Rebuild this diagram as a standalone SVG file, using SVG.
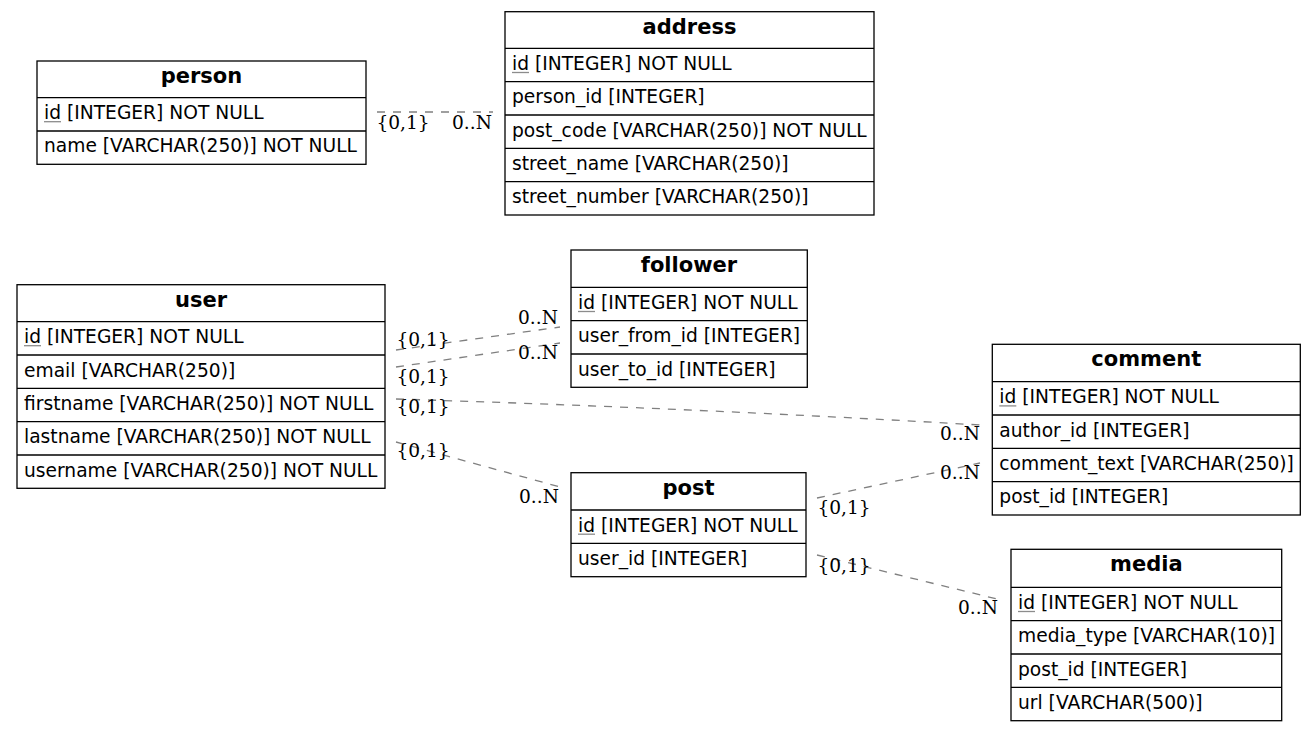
<svg xmlns="http://www.w3.org/2000/svg" width="1316" height="731" viewBox="0 0 1316 731">
<style>
.box{fill:#fff;stroke:#000;stroke-width:1.3}
.sep{stroke:#000;stroke-width:1.3}
.hd{font-family:"DejaVu Sans",sans-serif;font-weight:bold;font-size:21px;text-anchor:middle;fill:#000}
.f{font-family:"DejaVu Sans",sans-serif;font-size:18.67px;fill:#000}
.ul{stroke:#8c8c8c;stroke-width:1.3}
.e{fill:none;stroke:#808080;stroke-width:1.3;stroke-dasharray:8 8}
.lb{font-family:"DejaVu Serif",serif;font-size:18.6px;text-anchor:middle;fill:#000}
</style>
<rect width="1316" height="731" fill="#fff"/>
<g id="connectors">
<line class="e" x1="377" y1="112" x2="493" y2="112"/>
<line class="e" x1="396" y1="350" x2="560" y2="327"/>
<line class="e" x1="396" y1="367" x2="560" y2="343"/>
<path class="e" d="M396,399 Q690,408 980,425"/>
<line class="e" x1="396" y1="442" x2="560" y2="487"/>
<line class="e" x1="817" y1="498" x2="980" y2="463"/>
<line class="e" x1="817" y1="555" x2="997" y2="599"/>
<text class="lb" x="403" y="129">{0,1}</text>
<text class="lb" x="472" y="129">0..N</text>
<text class="lb" x="423" y="346">{0,1}</text>
<text class="lb" x="538" y="323.5">0..N</text>
<text class="lb" x="423" y="383">{0,1}</text>
<text class="lb" x="538" y="358.5">0..N</text>
<text class="lb" x="423" y="413">{0,1}</text>
<text class="lb" x="960" y="439.5">0..N</text>
<text class="lb" x="423" y="456.7">{0,1}</text>
<text class="lb" x="539" y="502.5">0..N</text>
<text class="lb" x="844" y="514">{0,1}</text>
<text class="lb" x="960" y="478.5">0..N</text>
<text class="lb" x="844" y="571.5">{0,1}</text>
<text class="lb" x="978" y="613.5">0..N</text>
</g>
<g id="person">
<rect class="box" x="37" y="61" width="329" height="103.3"/>
<line class="sep" x1="37" y1="97.7" x2="366" y2="97.7"/>
<line class="sep" x1="37" y1="131" x2="366" y2="131"/>
<text class="hd" x="201.5" y="83">person</text>
<text class="f" x="44" y="119">id [INTEGER] NOT NULL</text>
<line class="ul" x1="44" y1="121.7" x2="61" y2="121.7"/>
<text class="f" x="44" y="152.3">name [VARCHAR(250)] NOT NULL</text>
</g>
<g id="address">
<rect class="box" x="505" y="11.7" width="369" height="203.3"/>
<line class="sep" x1="505" y1="48.3" x2="874" y2="48.3"/>
<line class="sep" x1="505" y1="81.7" x2="874" y2="81.7"/>
<line class="sep" x1="505" y1="115" x2="874" y2="115"/>
<line class="sep" x1="505" y1="148.3" x2="874" y2="148.3"/>
<line class="sep" x1="505" y1="181.7" x2="874" y2="181.7"/>
<text class="hd" x="689.5" y="34">address</text>
<text class="f" x="512" y="69.8">id [INTEGER] NOT NULL</text>
<line class="ul" x1="512" y1="72.5" x2="529" y2="72.5"/>
<text class="f" x="512" y="103.2">person_id [INTEGER]</text>
<text class="f" x="512" y="136.5">post_code [VARCHAR(250)] NOT NULL</text>
<text class="f" x="512" y="169.8">street_name [VARCHAR(250)]</text>
<text class="f" x="512" y="203.2">street_number [VARCHAR(250)]</text>
</g>
<g id="user">
<rect class="box" x="17" y="284.7" width="368" height="203.6"/>
<line class="sep" x1="17" y1="321.7" x2="385" y2="321.7"/>
<line class="sep" x1="17" y1="355" x2="385" y2="355"/>
<line class="sep" x1="17" y1="388.3" x2="385" y2="388.3"/>
<line class="sep" x1="17" y1="421.7" x2="385" y2="421.7"/>
<line class="sep" x1="17" y1="455" x2="385" y2="455"/>
<text class="hd" x="201" y="306.7">user</text>
<text class="f" x="24" y="343">id [INTEGER] NOT NULL</text>
<line class="ul" x1="24" y1="345.7" x2="41" y2="345.7"/>
<text class="f" x="24" y="376.5">email [VARCHAR(250)]</text>
<text class="f" x="24" y="409.8">firstname [VARCHAR(250)] NOT NULL</text>
<text class="f" x="24" y="443.2">lastname [VARCHAR(250)] NOT NULL</text>
<text class="f" x="24" y="476.5">username [VARCHAR(250)] NOT NULL</text>
</g>
<g id="follower">
<rect class="box" x="571" y="250" width="236.3" height="137.3"/>
<line class="sep" x1="571" y1="287.3" x2="807.3" y2="287.3"/>
<line class="sep" x1="571" y1="320.7" x2="807.3" y2="320.7"/>
<line class="sep" x1="571" y1="354" x2="807.3" y2="354"/>
<text class="hd" x="689" y="272">follower</text>
<text class="f" x="578" y="308.8">id [INTEGER] NOT NULL</text>
<line class="ul" x1="578" y1="311.5" x2="595" y2="311.5"/>
<text class="f" x="578" y="342.2">user_from_id [INTEGER]</text>
<text class="f" x="578" y="375.5">user_to_id [INTEGER]</text>
</g>
<g id="post">
<rect class="box" x="571" y="472.7" width="235" height="104"/>
<line class="sep" x1="571" y1="510" x2="806" y2="510"/>
<line class="sep" x1="571" y1="543.3" x2="806" y2="543.3"/>
<text class="hd" x="688.5" y="494.7">post</text>
<text class="f" x="578" y="531.5">id [INTEGER] NOT NULL</text>
<line class="ul" x1="578" y1="534.2" x2="595" y2="534.2"/>
<text class="f" x="578" y="564.8">user_id [INTEGER]</text>
</g>
<g id="comment">
<rect class="box" x="992.3" y="344.3" width="308" height="170.7"/>
<line class="sep" x1="992.3" y1="381.7" x2="1300.3" y2="381.7"/>
<line class="sep" x1="992.3" y1="415" x2="1300.3" y2="415"/>
<line class="sep" x1="992.3" y1="448.3" x2="1300.3" y2="448.3"/>
<line class="sep" x1="992.3" y1="481.7" x2="1300.3" y2="481.7"/>
<text class="hd" x="1146.3" y="366.3">comment</text>
<text class="f" x="999.3" y="403.2">id [INTEGER] NOT NULL</text>
<line class="ul" x1="999.3" y1="405.9" x2="1016.3" y2="405.9"/>
<text class="f" x="999.3" y="436.5">author_id [INTEGER]</text>
<text class="f" x="999.3" y="469.8">comment_text [VARCHAR(250)]</text>
<text class="f" x="999.3" y="503.2">post_id [INTEGER]</text>
</g>
<g id="media">
<rect class="box" x="1011" y="549.3" width="270.7" height="171.4"/>
<line class="sep" x1="1011" y1="587.3" x2="1281.7" y2="587.3"/>
<line class="sep" x1="1011" y1="620.7" x2="1281.7" y2="620.7"/>
<line class="sep" x1="1011" y1="654" x2="1281.7" y2="654"/>
<line class="sep" x1="1011" y1="687.3" x2="1281.7" y2="687.3"/>
<text class="hd" x="1146.3" y="571.3">media</text>
<text class="f" x="1018" y="608.8">id [INTEGER] NOT NULL</text>
<line class="ul" x1="1018" y1="611.5" x2="1035" y2="611.5"/>
<text class="f" x="1018" y="642.2">media_type [VARCHAR(10)]</text>
<text class="f" x="1018" y="675.5">post_id [INTEGER]</text>
<text class="f" x="1018" y="708.8">url [VARCHAR(500)]</text>
</g>
</svg>
